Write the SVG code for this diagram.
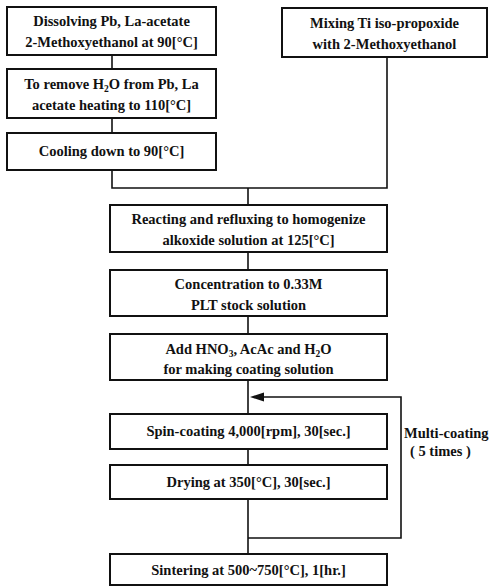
<svg xmlns="http://www.w3.org/2000/svg" width="490" height="587" viewBox="0 0 490 587">
<style>
.box{fill:#fff;stroke:#111;stroke-width:2}
.ln{fill:none;stroke:#111;stroke-width:1.6}
text{font-family:"Liberation Serif","Times New Roman",serif;font-weight:bold;font-size:14.5px;fill:#111;text-anchor:middle}
.lbl{text-anchor:start}
.sub{font-size:9.5px}
</style>
<g id="connectors">
<line class="ln" x1="112" y1="55" x2="112" y2="69"/>
<line class="ln" x1="112" y1="118" x2="112" y2="133"/>
<polyline class="ln" points="112,170 112,188 387,188 387,57"/>
<line class="ln" x1="248" y1="188" x2="248" y2="205"/>
<line class="ln" x1="248" y1="252" x2="248" y2="270"/>
<line class="ln" x1="248" y1="316" x2="248" y2="334"/>
<line class="ln" x1="248" y1="380" x2="248" y2="414"/>
<line class="ln" x1="248" y1="449" x2="248" y2="465"/>
<line class="ln" x1="248" y1="499" x2="248" y2="554"/>
<polyline class="ln" points="248,538 401,538 401,397 262,397"/>
<path d="M264,392.5 L250,397 L264,401.5 z" fill="#111"/>
</g>
<g id="n1"><rect class="box" x="7" y="7" width="209" height="48"/>
<text x="111.5" y="26">Dissolving Pb, La-acetate</text>
<text x="111.5" y="47">2-Methoxyethanol at 90[°C]</text></g>
<g id="n2"><rect class="box" x="282" y="8" width="205" height="49"/>
<text x="384.5" y="28">Mixing Ti iso-propoxide</text>
<text x="384.5" y="49">with 2-Methoxyethanol</text></g>
<g id="n3"><rect class="box" x="7" y="69" width="209" height="49"/>
<text x="111.5" y="89">To remove H<tspan class="sub" dy="3">2</tspan><tspan dy="-3">O from Pb, La</tspan></text>
<text x="111.5" y="110">acetate heating to 110[°C]</text></g>
<g id="n4"><rect class="box" x="7" y="133" width="209" height="37"/>
<text x="111.5" y="156">Cooling down to 90[°C]</text></g>
<g id="n5"><rect class="box" x="110" y="205" width="277" height="47"/>
<text x="248.5" y="224">Reacting and refluxing to homogenize</text>
<text x="248.5" y="245">alkoxide solution at 125[°C]</text></g>
<g id="n6"><rect class="box" x="110" y="270" width="277" height="46"/>
<text x="248.5" y="289">Concentration to 0.33M</text>
<text x="248.5" y="310">PLT stock solution</text></g>
<g id="n7"><rect class="box" x="110" y="334" width="277" height="46"/>
<text x="248.5" y="354">Add HNO<tspan class="sub" dy="3">3</tspan><tspan dy="-3">, AcAc and H</tspan><tspan class="sub" dy="3">2</tspan><tspan dy="-3">O</tspan></text>
<text x="248.5" y="374">for making coating solution</text></g>
<g id="n8"><rect class="box" x="110" y="414" width="277" height="35"/>
<text x="248.5" y="436">Spin-coating 4,000[rpm], 30[sec.]</text></g>
<g id="n9"><rect class="box" x="110" y="465" width="277" height="34"/>
<text x="248.5" y="487">Drying at 350[°C], 30[sec.]</text></g>
<g id="n10"><rect class="box" x="110" y="554" width="277" height="31"/>
<text x="248.5" y="575">Sintering at 500~750[°C], 1[hr.]</text></g>
<g id="label">
<text class="lbl" x="404" y="438">Multi-coating</text>
<text class="lbl" x="410" y="456">( 5 times )</text>
</g>
</svg>
